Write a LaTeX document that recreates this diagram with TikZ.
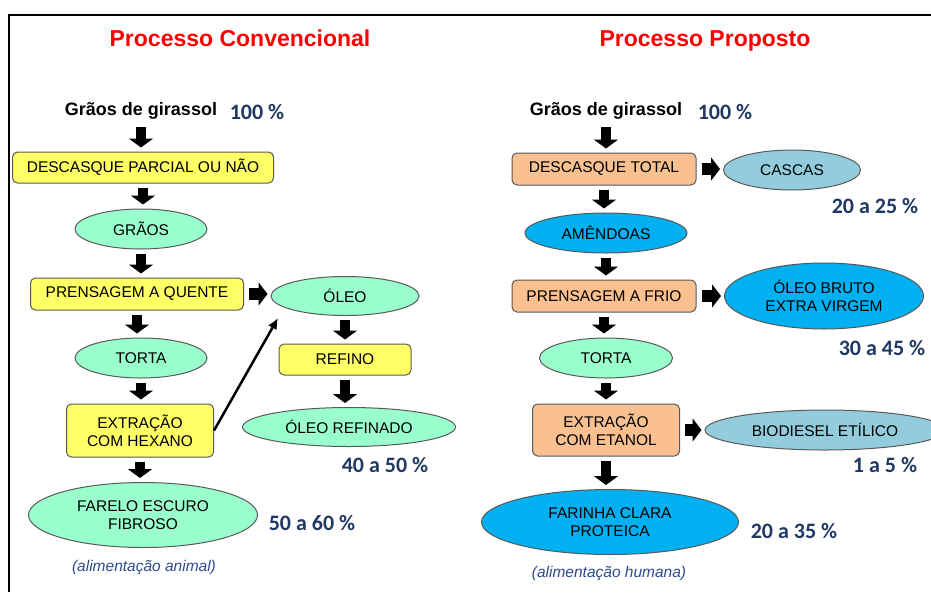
\documentclass[tikz,border=0pt]{standalone}
\usepackage{fontspec}
\setmainfont{Liberation Sans}
\newfontfamily\pctfont{Carlito}
\usetikzlibrary{arrows.meta,shapes.geometric}
\definecolor{boxyellow}{HTML}{FFFF66}
\definecolor{boxorange}{HTML}{FAC090}
\definecolor{ovalgreen}{HTML}{99FFCC}
\definecolor{ovalblue}{HTML}{00B0F0}
\definecolor{ovallight}{HTML}{93CDDD}
\definecolor{pctblue}{HTML}{1F3864}
\definecolor{noteblue}{HTML}{2E4A8C}
\definecolor{titlered}{HTML}{FF0000}

\begin{document}
\begin{tikzpicture}[x=1pt,y=-1pt,
	box_node/.style={rectangle,rounded corners=5pt,draw=black!65,line width=1pt,inner sep=2pt,align=center,font=\fontsize{15.5}{18}\selectfont},
	oval_node/.style={ellipse,draw=black!65,line width=1pt,inner sep=0pt,align=center,font=\fontsize{15.5}{18}\selectfont},
	title_text/.style={anchor=base,text=titlered,font=\fontsize{23}{27}\selectfont\bfseries},
	start_text/.style={anchor=base,inner sep=4pt,font=\fontsize{18}{22}\selectfont\bfseries},
	pct_text/.style={anchor=base,text=pctblue,font=\fontsize{22}{26}\selectfont\pctfont\bfseries},
	note_text/.style={anchor=base,text=noteblue,font=\fontsize{15.5}{18}\selectfont\itshape},
	down_arrow/.style={line width=10pt,-{Triangle[width=24pt,length=9pt]},shorten <=4pt,shorten >=4pt},
	right_arrow/.style={line width=12pt,-{Triangle[width=23pt,length=9pt]},shorten <=5pt,shorten >=3pt},
	thin_arrow/.style={line width=2.5pt,-{Latex[length=11pt,width=10pt]}}]

		\useasboundingbox (0,0) rectangle (931,592);
		\draw[line width=2pt] (9,592) -- (9,15) -- (931,15);

		% processo convencional
		\node[title_text] (t1) at (240,46.5) {Processo Convencional};
		\node[start_text] (1) at (141,115) {Grãos de girassol};
		\node[pct_text] (p1) at (257,119) {100 \%};

		\node[box_node,fill=boxyellow,minimum width=261pt,minimum height=31pt] (2) at (143,167.5) {DESCASQUE PARCIAL OU NÃO};
		\node[oval_node,fill=ovalgreen,minimum width=132pt,minimum height=40pt] (3) at (141,229) {GRÃOS};
		\node[box_node,fill=boxyellow,minimum width=213pt,minimum height=32pt] (4) at (137,294) {PRENSAGEM A QUENTE};
		\node[oval_node,fill=ovalgreen,minimum width=132pt,minimum height=40pt] (5) at (141,358) {TORTA};
		\node[box_node,fill=boxyellow,minimum width=147pt,minimum height=53pt] (6) at (140,430.5) {EXTRAÇÃO\\COM HEXANO};
		\node[oval_node,fill=ovalgreen,minimum width=229pt,minimum height=65pt] (7) at (143,515) {FARELO ESCURO\\FIBROSO};
		\node[pct_text] (p2) at (312,530.5) {50 a 60 \%};
		\node[note_text] (n1) at (144,571) {(alimentação animal)};

		\node[oval_node,fill=ovalgreen,minimum width=148pt,minimum height=39pt] (8) at (345,296) {ÓLEO};
		\node[box_node,fill=boxyellow,minimum width=132pt,minimum height=31pt] (9) at (345,359.5) {REFINO};
		\node[oval_node,fill=ovalgreen,minimum width=213pt,minimum height=39pt] (10) at (349,427) {ÓLEO REFINADO};
		\node[pct_text] (p3) at (385,472.5) {40 a 50 \%};
		\coordinate (8in) at (278,318);

		\draw[down_arrow] (1.south) -- (1.south |- 2.north);
		\draw[down_arrow] (2.south) -- (2.south |- 3.north);
		\draw[down_arrow] (3.south) -- (3.south |- 4.north);
		\draw[down_arrow] (4.south) -- (4.south |- 5.north);
		\draw[down_arrow] (5.south) -- (5.south |- 6.north);
		\draw[down_arrow] (6.south) -- (6.south |- 7.north);
		\draw[right_arrow] (4.east) -- (4.east -| 8.west);
		\draw[down_arrow] (8.south) -- (8.south |- 9.north);
		\draw[down_arrow] (9.south) -- (9.south |- 10.north);
		\draw[thin_arrow] (6.east) -- (8in);

		% processo proposto
		\node[title_text] (t2) at (705,46.5) {Processo Proposto};
		\node[start_text] (11) at (606,115) {Grãos de girassol};
		\node[pct_text] (p4) at (725,119) {100 \%};

		\node[box_node,fill=boxorange,minimum width=184pt,minimum height=32pt] (12) at (604,169) {DESCASQUE TOTAL};
		\node[oval_node,fill=ovallight,minimum width=137pt,minimum height=40pt] (13) at (792,170) {CASCAS};
		\node[pct_text] (p5) at (875,213) {20 a 25 \%};
		\node[oval_node,fill=ovalblue,minimum width=162pt,minimum height=40pt] (14) at (606,233) {AMÊNDOAS};
		\node[box_node,fill=boxorange,minimum width=184pt,minimum height=32pt] (15) at (604,296) {PRENSAGEM A FRIO};
		\node[oval_node,fill=ovalblue,minimum width=199pt,minimum height=66pt] (16) at (824,296) {ÓLEO BRUTO\\EXTRA VIRGEM};
		\node[pct_text] (p6) at (882,355) {30 a 45 \%};
		\node[oval_node,fill=ovalgreen,minimum width=133pt,minimum height=40pt] (17) at (606,358) {TORTA};
		\node[box_node,fill=boxorange,minimum width=147pt,minimum height=52pt] (18) at (606,430) {EXTRAÇÃO\\COM ETANOL};
		\node[oval_node,fill=ovallight,minimum width=240pt,minimum height=40pt] (19) at (825,430) {BIODIESEL ETÍLICO};
		\node[pct_text] (p7) at (885,472.5) {1 a 5 \%};
		\node[oval_node,fill=ovalblue,minimum width=257pt,minimum height=65pt] (20) at (610,522) {FARINHA CLARA\\PROTEICA};
		\node[pct_text] (p8) at (794,538) {20 a 35 \%};
		\node[note_text] (n2) at (609,577) {(alimentação humana)};

		\draw[down_arrow] (11.south) -- (11.south |- 12.north);
		\draw[right_arrow] (12.east) -- (12.east -| 13.west);
		\draw[down_arrow] (12.south) -- (12.south |- 14.north);
		\draw[down_arrow] (14.south) -- (14.south |- 15.north);
		\draw[right_arrow] (15.east) -- (15.east -| 16.west);
		\draw[down_arrow] (15.south) -- (15.south |- 17.north);
		\draw[down_arrow] (17.south) -- (17.south |- 18.north);
		\draw[right_arrow] (18.east) -- (18.east -| 19.west);
		\draw[down_arrow] (18.south) -- (18.south |- 20.north);
		\end{tikzpicture}
\end{document}
